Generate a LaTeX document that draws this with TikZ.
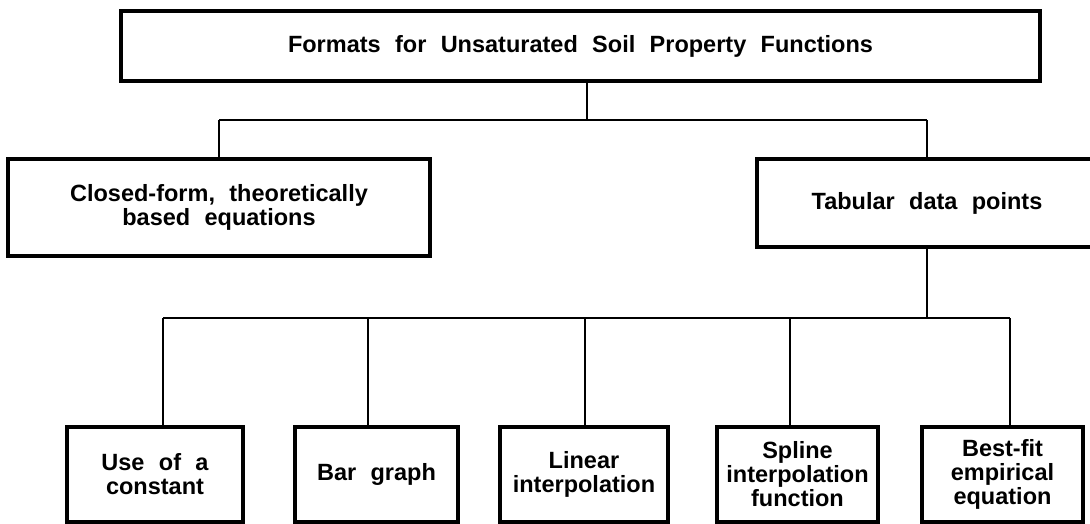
\documentclass[tikz,border=0pt]{standalone}
\usepackage{fontspec}
\setmainfont{Liberation Sans}[WordSpace=2.2]
\begin{document}
\begin{tikzpicture}[x=1pt,y=-1pt,
  box/.style={draw=black, line width=3.2pt, fill=white, inner sep=0pt, align=center,
    font=\bfseries\fontsize{23.5}{24}\selectfont},
  link/.style={draw=black, line width=2.8pt}]
\useasboundingbox (0,0) rectangle (1090,524);
\fill[white] (0,0) rectangle (1090,524);
\clip (0,0) rectangle (1090,524);
% boxes
\node[box, minimum width=919pt, minimum height=70pt] (top) at (580.5,46) {Formats for Unsaturated Soil Property Functions};
\node[box, minimum width=422pt, minimum height=97pt] (closed) at (219,207.5) {Closed-form, theoretically\\based equations};
\node[box, minimum width=340pt, minimum height=88pt] (tab) at (927,203) {Tabular data points};
\node[box, minimum width=176pt, minimum height=95pt] (b1) at (155,474.5) {Use of a\\constant};
\node[box, minimum width=163pt, minimum height=95pt] (b2) at (376.5,474.5) {Bar graph};
\node[box, minimum width=168pt, minimum height=95pt] (b3) at (584,474.5) {Linear\\interpolation};
\node[box, minimum width=161pt, minimum height=95pt] (b4) at (797.5,474.5) {Spline\\interpolation\\function};
\node[box, minimum width=161pt, minimum height=95pt] (b5) at (1002.5,474.5) {Best-fit\\empirical\\equation};
% junctions
\coordinate (t0) at (587,120);
\coordinate (tl) at (219,120);
\coordinate (tr) at (927,120);
\coordinate (u0) at (927,318);
\coordinate (u1) at (163,318);
\coordinate (u2) at (368,318);
\coordinate (u3) at (585,318);
\coordinate (u4) at (790,318);
\coordinate (u5) at (1010,318);
% connectors
\draw[link] (top.south -| t0) -- (t0);
\draw[link] (tl) -- (tr);
\draw[link] (tl) -- (closed.north);
\draw[link] (tr) -- (tab.north);
\draw[link] (tab.south) -- (u0);
\draw[link] (u1) -- (u5);
\draw[link] (u1) -- (u1 |- b1.north);
\draw[link] (u2) -- (u2 |- b2.north);
\draw[link] (u3) -- (u3 |- b3.north);
\draw[link] (u4) -- (u4 |- b4.north);
\draw[link] (u5) -- (u5 |- b5.north);
\end{tikzpicture}
\end{document}
